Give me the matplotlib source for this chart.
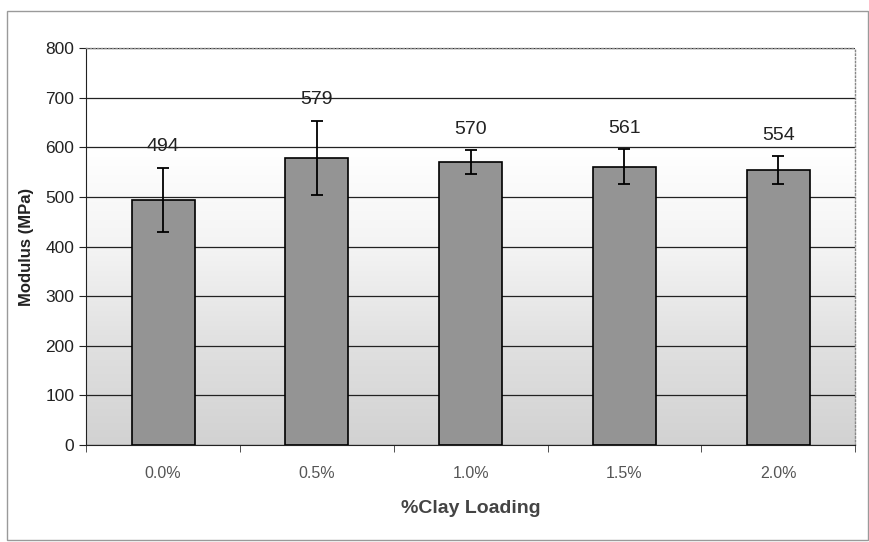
import matplotlib.pyplot as plt
import numpy as np
from matplotlib.patches import Rectangle

plt.rcParams['font.family'] = ['Liberation Sans', 'DejaVu Sans']

# data
loadings = ['0.0%', '0.5%', '1.0%', '1.5%', '2.0%']
modulus = [494, 579, 570, 561, 554]
errors = [65, 75, 24, 35, 28]

fig = plt.figure(figsize=(8.7, 5.42), dpi=100)
ax = fig.add_axes([0.099, 0.179, 0.884, 0.732])

# outer chart border
fig.patches.append(Rectangle((0.008, 0.004), 0.99, 0.975, transform=fig.transFigure,
                             fill=False, edgecolor='#9a9a9a', linewidth=1.0))

# plot area: white at top fading to light grey at bottom
grad = np.linspace(1.0, 0.0, 256).reshape(-1, 1)
ax.imshow(grad, extent=[-0.5, len(loadings) - 0.5, 0, 800], aspect='auto',
          cmap=plt.matplotlib.colors.LinearSegmentedColormap.from_list(
              'bg', ['#d2d2d2', '#e0e0e0', '#f4f4f4', '#ffffff', '#ffffff']),
          origin='upper', zorder=0)

x = np.arange(len(loadings))
ax.bar(x, modulus, width=0.41, color='#949494', edgecolor='black', linewidth=1.2, zorder=3)
ax.errorbar(x, modulus, yerr=errors, fmt='none', ecolor='black', elinewidth=1.3,
            capsize=4, capthick=1.3, zorder=4)

for xi, v, e in zip(x, modulus, errors):
    ax.annotate(str(v), (xi, v + e), xytext=(0, 9), textcoords='offset points',
                ha='center', va='bottom', fontsize=14, color='#222222')

ax.set_xlim(-0.5, len(loadings) - 0.5)
ax.set_ylim(0, 800)
ax.set_yticks(np.arange(0, 801, 100))
ax.yaxis.grid(True, color='#222222', linewidth=0.9, zorder=1)
ax.set_axisbelow(True)

ax.set_xticks(x)
ax.set_xticklabels(loadings, fontsize=11.5, color='#555555')
ax.set_xticks(np.arange(-0.5, len(loadings), 1), minor=True)
ax.tick_params(axis='x', which='major', length=0, pad=15)
ax.tick_params(axis='x', which='minor', length=5, direction='out', color='#333333')
ax.tick_params(axis='y', labelsize=12.5, length=5, direction='out', colors='#222222')

for s in ['top', 'right']:
    ax.spines[s].set_color('#888888')
    ax.spines[s].set_linestyle(':')
    ax.spines[s].set_linewidth(1.0)
ax.spines['left'].set_color('#222222')
ax.spines['bottom'].set_color('#222222')

ax.set_ylabel('Modulus (MPa)', fontsize=12, fontweight='bold', color='#222222', labelpad=8)
ax.set_xlabel('%Clay Loading', fontsize=14, fontweight='bold', color='#444444', labelpad=14)

fig.savefig('out.png', dpi=100)
